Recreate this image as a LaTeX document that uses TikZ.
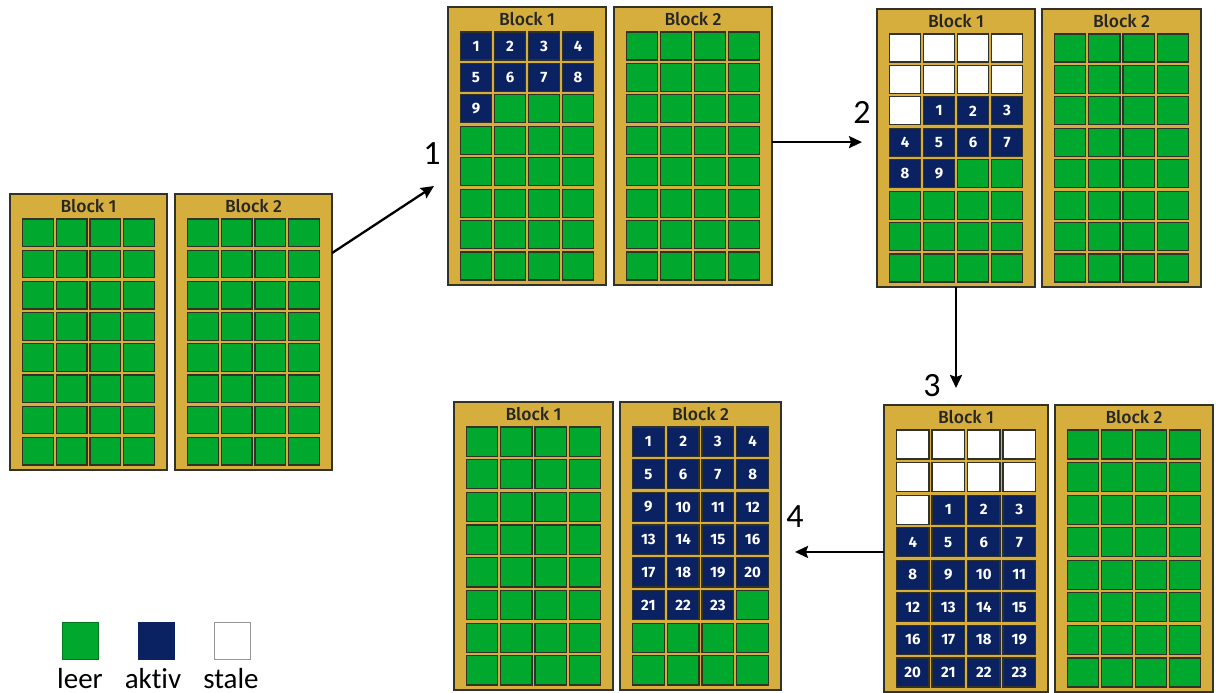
\documentclass[tikz,border=0pt]{standalone}
\usepackage{fontspec}
\setmainfont[Ligatures=NoCommon]{Carlito}
\newfontfamily\hdfont{Fira Sans Medium}
\newfontfamily\numfont{Fira Sans}
\usetikzlibrary{calc,arrows.meta}
\definecolor{gold}{RGB}{213,174,62}
\definecolor{cgreen}{RGB}{0,168,45}
\definecolor{cnavy}{RGB}{10,34,98}
\definecolor{edgec}{RGB}{50,50,40}
\definecolor{legedge}{RGB}{150,150,150}
\tikzset{
  blockbox/.style={draw=edgec, line width=1.6pt, fill=gold, inner sep=0pt, outer sep=0pt},
  blocktitle/.style={inner sep=0pt, font=\hdfont\fontsize{17.5}{17.5}\selectfont, text=black!85},
  cell/.style={draw=edgec, line width=1.2pt, inner sep=0pt, outer sep=0pt},
  numtxt/.style={text=white, font=\numfont\bfseries\fontsize{15}{15}\selectfont},
  arr/.style={line width=2.3pt, -{Stealth[length=13pt,width=12pt,inset=2pt]}},
  steplbl/.style={inner sep=0pt, font=\fontsize{34}{34}\selectfont},
  legsq/.style={minimum width=36pt, minimum height=37pt, inner sep=0pt, line width=0.8pt},
  leglbl/.style={inner sep=0pt, anchor=base, font=\fontsize{29}{29}\selectfont}
}
% name, x, y, w, h, title, #stale, #active
\newcommand\blk[8]{%
  \node[blockbox, minimum width=#4pt, minimum height=#5pt, anchor=north west] (#1) at (#2,#3) {};
  \node[blocktitle] (#1-t) at (#2+#4/2, #3+12.5) {#6};
  \pgfmathsetmacro\px{(#4-25+3)/4}
  \pgfmathsetmacro\py{(#5-30+3.5)/8}
  \pgfmathsetmacro\cw{\px-3}
  \pgfmathsetmacro\ch{\py-3.5}
  \foreach \i in {0,...,31} {
    \pgfmathtruncatemacro\col{mod(\i,4)}
    \pgfmathtruncatemacro\row{div(\i,4)}
    \pgfmathtruncatemacro\num{\i-#7+1}
    \pgfmathsetmacro\cx{#2+12.5+\col*\px+\cw/2}
    \pgfmathsetmacro\cy{#3+25+\row*\py+\ch/2}
    \ifnum\i<#7\relax
      \node[cell, fill=white, minimum width=\cw pt, minimum height=\ch pt] (#1-c\i) at (\cx,\cy) {};
    \else
      \ifnum\i<\numexpr#7+#8\relax
        \node[cell, fill=cnavy, minimum width=\cw pt, minimum height=\ch pt, numtxt] (#1-c\i) at (\cx,\cy) {\num};
      \else
        \node[cell, fill=cgreen, minimum width=\cw pt, minimum height=\ch pt] (#1-c\i) at (\cx,\cy) {};
      \fi
    \fi
  }%
}
\begin{document}
\begin{tikzpicture}[x=1pt, y=-1pt]
\useasboundingbox[fill=white] (0,0) rectangle (1216,693);

% group A
\blk{a1}{10}{194}{157}{276}{Block 1}{0}{0}
\blk{a2}{175}{194}{157}{276}{Block 2}{0}{0}
% group B
\blk{b1}{448}{7}{158}{278}{Block 1}{0}{9}
\blk{b2}{614}{7}{158}{278}{Block 2}{0}{0}
% group C
\blk{c1}{877}{9}{158}{278}{Block 1}{9}{9}
\blk{c2}{1042}{9}{159}{278}{Block 2}{0}{0}
% group D
\blk{d1}{884}{405}{164}{287}{Block 1}{9}{23}
\blk{d2}{1055}{405}{158}{287}{Block 2}{0}{0}
% group E
\blk{e1}{454}{402}{159}{288}{Block 1}{0}{0}
\blk{e2}{620}{402}{161}{288}{Block 2}{0}{23}

% arrows
\coordinate (t1) at (434,186);
\coordinate (s2) at ($(b2.north east)!0.486!(b2.south east)$);
\coordinate (s4) at ($(d1.north west)!0.512!(d1.south west)$);
\draw[arr] ($(a2.north east)!0.214!(a2.south east)$) -- (t1);
\draw[arr, shorten >=15pt] (s2) -- (s2 -| c1.west);
\draw[arr, shorten >=17pt] (c1.south) -- (c1.south |- d1.north);
\draw[arr, shorten >=14pt] (s4) -- (s4 -| e2.east);

% step labels
\node[steplbl] (l1) at (432,154) {1};
\node[steplbl] (l2) at (862,112) {2};
\node[steplbl] (l3) at (932,386) {3};
\node[steplbl] (l4) at (795,517) {4};

% legend
\node[legsq, fill=cgreen, draw=cgreen!70!black] (lg) at (80,640.5) {};
\node[legsq, fill=cnavy, draw=cnavy] (ln) at (156.5,640.5) {};
\node[legsq, fill=white, draw=legedge] (lw) at (232.5,640.5) {};
\node[leglbl] (lgt) at (80,688) {leer};
\node[leglbl] (lnt) at (153,688) {aktiv};
\node[leglbl] (lwt) at (231,688) {stale};
\end{tikzpicture}
\end{document}
